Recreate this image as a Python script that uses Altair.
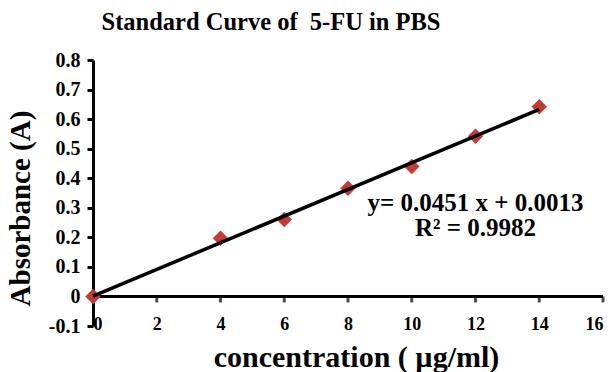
import altair as alt
import pandas as pd

# Measured standards
concentration = [0, 4, 6, 8, 10, 12, 14]
absorbance = [0.0, 0.197, 0.26, 0.366, 0.44, 0.542, 0.642]

# Linear fit reported on the chart
slope = 0.0451
intercept = 0.0013
fit_range = [0, 14]

x_ticks = [0, 2, 4, 6, 8, 10, 12, 14, 16]
y_ticks = [-0.1, 0, 0.1, 0.2, 0.3, 0.4, 0.5, 0.6, 0.7, 0.8]

equation_text = ["y= 0.0451 x + 0.0013", "R² = 0.9982"]
equation_x = [12, 12]
equation_y = [0.315, 0.23]

FONT = "Liberation Serif"
W, H = 510, 266

points = pd.DataFrame({"conc": concentration, "abs": absorbance})
fit = pd.DataFrame({"conc": fit_range})
notes = pd.DataFrame({"conc": equation_x, "abs": equation_y, "label": equation_text})
ticks = pd.DataFrame({"conc": x_ticks, "zero": [0] * len(x_ticks)})

x_scale = alt.Scale(domain=[x_ticks[0], x_ticks[-1]], nice=False, zero=False)
y_scale = alt.Scale(domain=[y_ticks[0], y_ticks[-1]], nice=False, zero=False)

# Bottom axis carries only the labels and the title
x_axis = alt.Axis(
    values=x_ticks, domain=False, ticks=False, grid=False, offset=-11,
    labelFont=FONT, labelFontSize=18, labelFontWeight="bold", labelColor="black",
    labelPadding=0, labelOverlap=False,
    title="concentration ( µg/ml)", titleFont=FONT, titleFontSize=30,
    titleFontWeight="bold", titleColor="black", titlePadding=9,
    titleX=263, titleAlign="center",
)

y_axis = alt.Axis(
    values=y_ticks, labelOverlap=False,
    labelExpr="datum.value < 0 ? '-' + format(-datum.value, '.1~f') : format(datum.value, '.1~f')",
    grid=False, domainColor="black", domainWidth=3, tickColor="black",
    tickWidth=3, tickSize=6, labelFont=FONT, labelFontSize=20,
    labelFontWeight="bold", labelColor="black", labelPadding=7,
    title="Absorbance (A)", titleFont=FONT, titleFontSize=29,
    titleFontWeight="bold", titleColor="black",
    titleX=-73, titleY=148, titleBaseline="middle", titleAlign="center", titleAngle=270,
)


def x_enc(field="conc"):
    return alt.X(f"{field}:Q", scale=x_scale, axis=x_axis)


def y_enc(field):
    return alt.Y(f"{field}:Q", scale=y_scale, axis=y_axis)


line = alt.Chart(fit).mark_line(color="black", strokeWidth=3.5).transform_calculate(
    fitted=f"{slope} * datum.conc + {intercept}"
).encode(x=x_enc(), y=y_enc("fitted"))

# Horizontal axis line through y = 0 with downward ticks
zero_line = alt.Chart(ticks).mark_rule(color="black", strokeWidth=3).encode(
    x=alt.X("min(conc):Q", scale=x_scale, axis=x_axis),
    x2=alt.X2("max(conc):Q"),
    y=alt.Y("min(zero):Q", scale=y_scale, axis=y_axis),
)

zero_ticks = alt.Chart(ticks).mark_tick(
    color="black", thickness=3, size=6, orient="vertical", yOffset=3
).encode(x=x_enc(), y=y_enc("zero"))

dots = alt.Chart(points).mark_point(
    shape="diamond", filled=True, color="#c23b37", size=240, opacity=1
).encode(x=x_enc(), y=y_enc("abs"))

labels = alt.Chart(notes).mark_text(
    font=FONT, fontSize=25, fontWeight="bold", color="black", align="center"
).encode(x=x_enc(), y=y_enc("abs"), text="label:N")

chart = alt.layer(zero_line, zero_ticks, dots, line, labels).properties(
    width=W, height=H,
    title=alt.Title("Standard Curve of \u00a05-FU in PBS", font=FONT, fontSize=24.5,
                    fontWeight="bold", color="black", anchor="middle", offset=15, dx=-77),
    autosize=alt.AutoSizeParams(type="none"),
    padding={"left": 93, "top": 60, "right": 10, "bottom": 46},
    background="white",
).configure_view(stroke=None).configure_axis(labelOverlap=False)

chart.save("out.html", embed_options={"renderer": "svg", "actions": False})
